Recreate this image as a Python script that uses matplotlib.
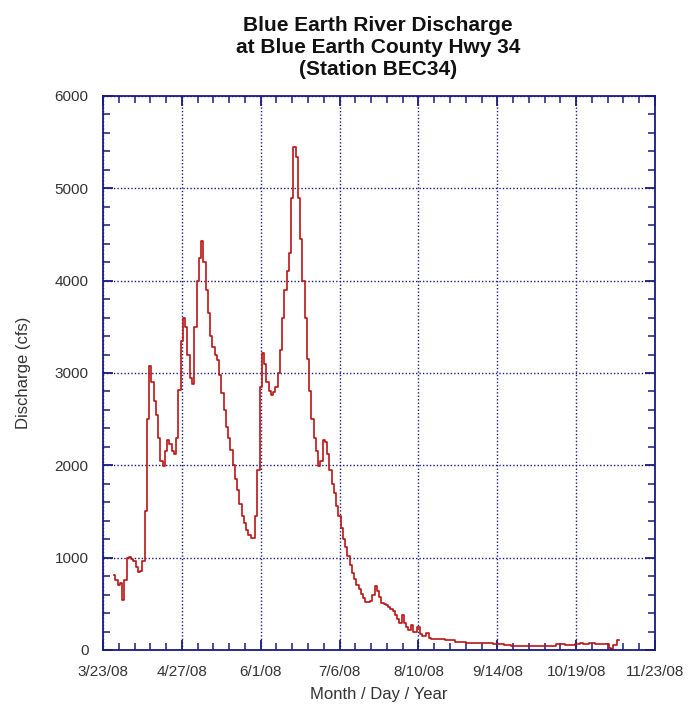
import matplotlib
matplotlib.use("Agg")
import matplotlib.pyplot as plt
import numpy as np
import pandas as pd

plt.rcParams["font.family"] = ["Liberation Sans", "DejaVu Sans"]

# days after 3/23/08 and discharge (cfs)
day_offset = [
    5, 6, 7, 8, 9, 10, 11, 12, 13, 14, 15, 16, 17, 18, 19, 20, 21, 22, 23, 24,
    25, 26, 27, 28, 29, 30, 31, 32, 33, 34, 35, 36, 37, 38, 39, 40, 41, 42, 43, 44,
    45, 46, 47, 48, 49, 50, 51, 52, 53, 54, 55, 56, 57, 58, 59, 60, 61, 62, 63, 64,
    65, 66, 67, 68, 69, 70, 71, 72, 73, 74, 75, 76, 77, 78, 79, 80, 81, 82, 83, 84,
    85, 86, 87, 88, 89, 90, 91, 92, 93, 94, 95, 96, 97, 98, 99, 100, 101, 102, 103, 104,
    105, 106, 107, 108, 109, 110, 111, 112, 113, 114, 115, 116, 117, 118, 119, 120, 121, 122, 123, 124,
    125, 126, 127, 128, 129, 130, 131, 132, 133, 134, 135, 136, 137, 138, 139, 140, 141, 142, 143, 144,
    145, 146, 150, 154, 158, 164, 170, 176, 180, 182, 190, 198, 200, 202, 208, 211, 212, 214, 217, 220,
    224, 225, 226, 227, 229,
]
discharge = [
    810, 760, 700, 730, 540, 760, 1000, 1010, 990, 960, 900, 840, 860, 960, 1500, 2500, 3080, 2900, 2700, 2550,
    2300, 2050, 1990, 2150, 2270, 2230, 2150, 2120, 2300, 2820, 3350, 3590, 3500, 3200, 2950, 2880, 3500, 4000, 4250, 4430,
    4200, 3900, 3650, 3400, 3280, 3200, 3140, 2980, 2780, 2600, 2420, 2300, 2170, 2000, 1850, 1730, 1580, 1450, 1370, 1300,
    1240, 1215, 1210, 1450, 1950, 2850, 3220, 3100, 2900, 2800, 2760, 2790, 2850, 3000, 3250, 3600, 3900, 4100, 4300, 4900,
    5450, 5340, 4900, 4450, 4000, 3600, 3150, 2800, 2500, 2300, 2150, 1990, 2050, 2270, 2250, 2120, 1950, 1800, 1700, 1560,
    1450, 1320, 1200, 1120, 1020, 920, 830, 770, 700, 660, 610, 560, 520, 520, 530, 590, 690, 640, 570, 510,
    500, 490, 470, 440, 420, 380, 340, 290, 380, 290, 250, 220, 270, 200, 200, 250, 170, 150, 150, 180,
    130, 120, 115, 105, 90, 80, 72, 65, 55, 43, 38, 40, 45, 65, 55, 60, 80, 65, 80, 65,
    65, 20, 10, 55, 105,
]

start = pd.Timestamp("2008-03-23")
end = pd.Timestamp("2008-11-23")
dates = start + pd.to_timedelta(day_offset, unit="D")

navy = "#1a1a80"
text_col = "#333333"

fig = plt.figure(figsize=(6.89, 7.13), dpi=100)
ax = fig.add_axes([0.1495, 0.0884, 0.8012, 0.777])

ax.plot(dates, discharge, color="#bb1414", linewidth=1.2, drawstyle="steps-mid")

ax.set_xlim(start, end)
ax.set_ylim(0, 6000)

major_dates = pd.date_range(start, periods=8, freq="35D")
ax.set_xticks(major_dates)
ax.set_xticklabels([f"{d.month}/{d.day}/{d.strftime('%y')}" for d in major_dates])
ax.set_xticks(pd.date_range(start, end, freq="7D"), minor=True)
ax.set_yticks(np.arange(0, 6001, 1000))
ax.set_yticks(np.arange(0, 6001, 200), minor=True)

ax.grid(True, which="major", color=navy, linestyle=(0, (1, 1.5)), linewidth=1.0)
for sp in ax.spines.values():
    sp.set_color(navy)
    sp.set_linewidth(1.3)
ax.tick_params(which="both", direction="in", color=navy, top=True, right=True,
               labelsize=11, labelcolor=text_col)
ax.tick_params(which="major", length=7, width=1.3, pad=10.5)
ax.tick_params(which="minor", length=5, width=1.1)

ax.set_ylabel("Discharge (cfs)", fontsize=12, color=text_col, labelpad=17)
ax.set_xlabel("Month / Day / Year", fontsize=12, color=text_col, labelpad=6)

fig.text(0.549, 0.978, "Blue Earth River Discharge\nat Blue Earth County Hwy 34\n(Station BEC34)",
         ha="center", va="top", fontsize=15, fontweight="bold", linespacing=1.22,
         color="#111111")

fig.savefig("out.png", dpi=100)
